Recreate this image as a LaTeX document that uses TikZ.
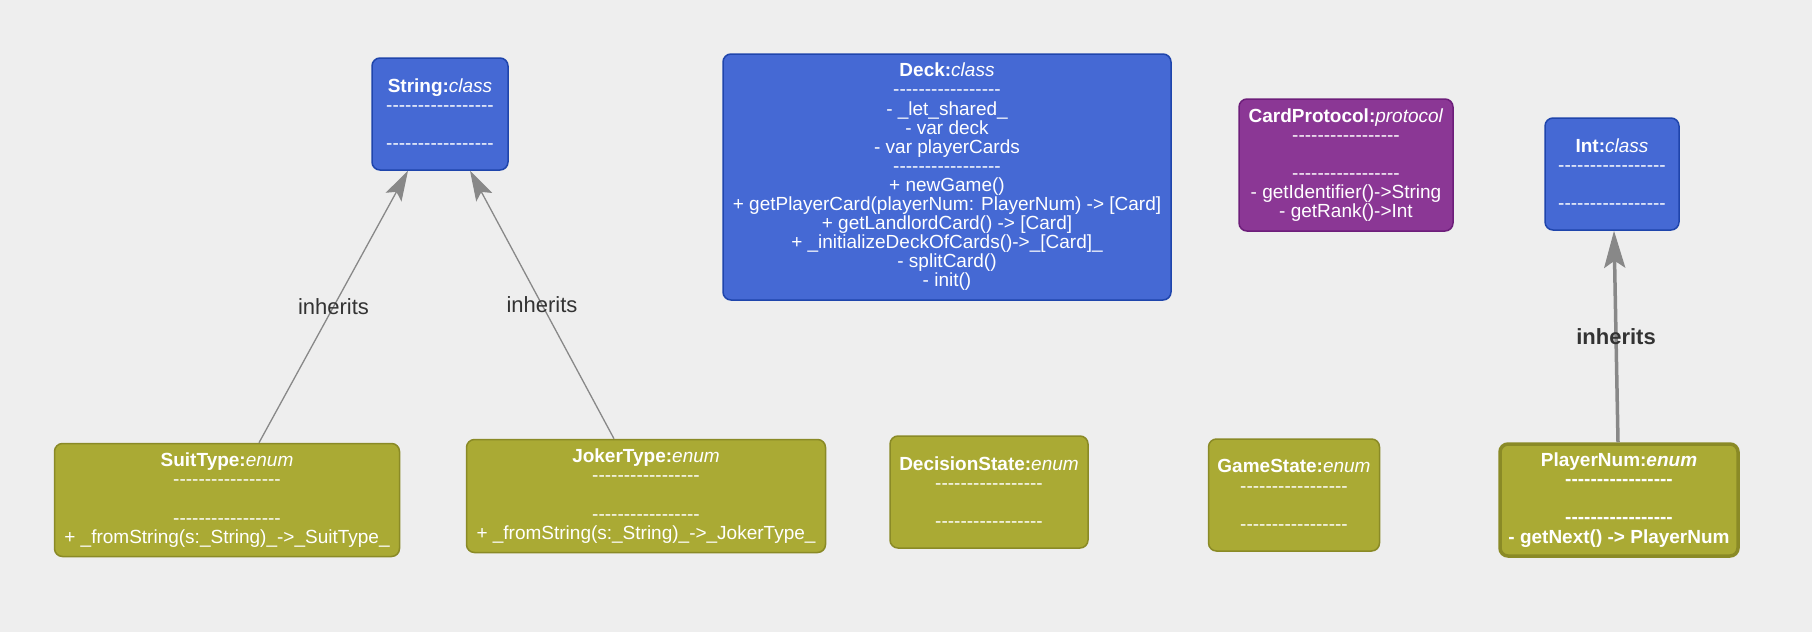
\documentclass[tikz,border=0pt]{standalone}
\usepackage{fontspec}
\usepackage{xcolor}
\newfontfamily\umlfont{Liberation Sans}
\usetikzlibrary{arrows.meta}
\definecolor{canvas}{HTML}{EEEEEE}
\definecolor{classfill}{HTML}{4569D4}
\definecolor{classline}{HTML}{1F45AC}
\definecolor{protofill}{HTML}{8B3795}
\definecolor{protoline}{HTML}{6D1E7A}
\definecolor{enumfill}{HTML}{AAAA34}
\definecolor{enumline}{HTML}{8A8A26}
\definecolor{edgegray}{HTML}{888888}
\definecolor{labeltext}{HTML}{333333}
\newcommand{\sepline}{-----------------}
\newcommand{\umltitle}[2]{\textbf{#1:}\textit{#2}}

\begin{document}
\begin{tikzpicture}[x=1pt,y=-1pt,
	box/.style={rectangle,rounded corners=8pt,line width=1.5pt,text=white,align=center,inner sep=0pt,
		font=\umlfont\fontsize{19}{19.1}\selectfont},
	classbox/.style={box,fill=classfill,draw=classline},
	protobox/.style={box,fill=protofill,draw=protoline},
	enumbox/.style={box,fill=enumfill,draw=enumline},
	inherit/.style={draw=edgegray,line width=1.3pt,-{Stealth[length=30pt,width=18pt,inset=6pt]}},
	edgelabel/.style={text=labeltext,font=\umlfont\fontsize{22}{24}\selectfont}]
	\useasboundingbox (0,0) rectangle (1812,632);
	\fill[canvas] (0,0) rectangle (1812,632);
	\foreach \name/\kind/\look/\px/\py/\w in {String/class/classbox/440/114/136,
		Int/class/classbox/1612/174/134,
		DecisionState/enum/enumbox/989/492/198,
		GameState/enum/enumbox/1294/495/171} {
		\node[\look,minimum width=\w pt,minimum height=112pt] (\name) at (\px,\py)
			{\umltitle{\name}{\kind}\\ \sepline\\ \mbox{}\\ \sepline};
	}
	\node[classbox,minimum width=448pt,minimum height=246pt] (Deck) at (947,177)
		{\umltitle{Deck}{class}\\ \sepline\\ - \_let\_shared\_\\ - var deck\\ - var playerCards\\ \sepline\\
		+ newGame()\\ + getPlayerCard(playerNum: PlayerNum) -> [Card]\\ + getLandlordCard() -> [Card]\\
		+ \_initializeDeckOfCards()->\_[Card]\_\\ - splitCard()\\ - init()};
	\node[protobox,minimum width=214pt,minimum height=132pt] (CardProtocol) at (1346,165)
		{\umltitle{CardProtocol}{protocol}\\ \sepline\\ \mbox{}\\ \sepline\\ - getIdentifier()->String\\ - getRank()->Int};
	\node[enumbox,minimum width=345pt,minimum height=113pt] (SuitType) at (227,500)
		{\umltitle{SuitType}{enum}\\ \sepline\\ \mbox{}\\ \sepline\\ + \_fromString(s:\_String)\_->\_SuitType\_};
	\node[enumbox,minimum width=359pt,minimum height=113pt] (JokerType) at (646,496)
		{\umltitle{JokerType}{enum}\\ \sepline\\ \mbox{}\\ \sepline\\ + \_fromString(s:\_String)\_->\_JokerType\_};
	\node[enumbox,line width=3.5pt,minimum width=238pt,minimum height=112pt,execute at begin node=\bfseries] (PlayerNum) at (1619,500)
		{\umltitle{PlayerNum}{enum}\\ \sepline\\ \mbox{}\\ \sepline\\ - getNext() -> PlayerNum};
	\draw[inherit] ([xshift=32pt]SuitType.north) -- node[edgelabel] {inherits} ([xshift=-32pt]String.south);
	\draw[inherit] ([xshift=-32pt]JokerType.north) -- node[edgelabel] {inherits} ([xshift=30pt]String.south);
	\draw[inherit,line width=3.5pt,-{Stealth[length=37pt,width=21pt,inset=7pt]}] ([xshift=-1pt]PlayerNum.north)
		-- node[edgelabel,font=\umlfont\bfseries\fontsize{22}{24}\selectfont] {inherits} ([xshift=2pt]Int.south);
\end{tikzpicture}
\end{document}
